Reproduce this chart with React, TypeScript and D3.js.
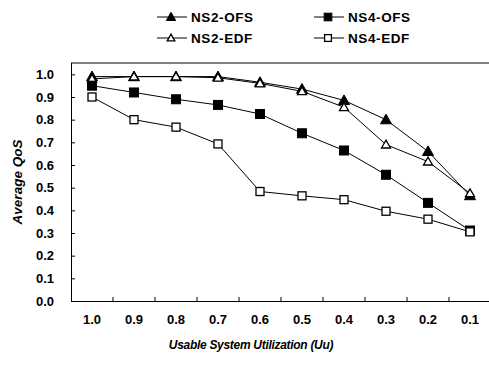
import React, { useEffect, useRef } from 'react';
import * as d3 from 'd3';

// usable system utilization, from 1.0 down to 0.1
const categories = ['1.0', '0.9', '0.8', '0.7', '0.6', '0.5', '0.4', '0.3', '0.2', '0.1'];

const ns2Ofs = [0.99, 0.99, 0.99, 0.99, 0.965, 0.935, 0.885, 0.80, 0.66, 0.465];
const ns2Edf = [0.98, 0.99, 0.99, 0.985, 0.96, 0.925, 0.855, 0.69, 0.615, 0.475];
const ns4Ofs = [0.95, 0.92, 0.89, 0.865, 0.825, 0.74, 0.664, 0.557, 0.433, 0.311];
const ns4Edf = [0.90, 0.80, 0.767, 0.693, 0.483, 0.464, 0.447, 0.396, 0.361, 0.305];

const yTicks = [0, 0.1, 0.2, 0.3, 0.4, 0.5, 0.6, 0.7, 0.8, 0.9, 1.0];

const seriesNames = ['NS2-OFS', 'NS2-EDF', 'NS4-OFS', 'NS4-EDF'];

type Series = { name: string; values: number[]; shape: 'tri' | 'sq'; filled: boolean };

const series: Series[] = [
  { name: seriesNames[0], values: ns2Ofs, shape: 'tri', filled: true },
  { name: seriesNames[1], values: ns2Edf, shape: 'tri', filled: false },
  { name: seriesNames[2], values: ns4Ofs, shape: 'sq', filled: true },
  { name: seriesNames[3], values: ns4Edf, shape: 'sq', filled: false },
];

const W = 489;
const H = 366;
const FONT = '"Liberation Sans", Arial, sans-serif';

function drawMarker(g: any, s: Series, x: number, y: number, k = 1) {
  if (s.shape === 'tri') {
    const r = (s.filled ? 5.5 : 4.5) * k;
    g.append('path')
      .attr('d', `M${x},${y - r}L${x + r},${y + r * 0.75}L${x - r},${y + r * 0.75}Z`)
      .attr('fill', s.filled ? '#000' : '#fff')
      .attr('stroke', '#000')
      .attr('stroke-width', s.filled ? 1 : 1.3);
  } else {
    const r = (s.filled ? 4.5 : 4) * k;
    g.append('rect')
      .attr('x', x - r)
      .attr('y', y - r)
      .attr('width', r * 2)
      .attr('height', r * 2)
      .attr('fill', s.filled ? '#000' : '#fff')
      .attr('stroke', '#000')
      .attr('stroke-width', s.filled ? 1 : 1.3);
  }
}

export default function App() {
  const ref = useRef<SVGSVGElement>(null);

  useEffect(() => {
    const svg = d3.select(ref.current);
    svg.selectAll('*').remove();

    const left = 71, right = 491, top = 63, bottom = 301;

    const x = d3.scaleBand<string>().domain(categories).range([left, right]);
    const y = d3.scaleLinear().domain([0, 1.05]).range([bottom, top]);
    const cx = (c: string) => (x(c) as number) + x.bandwidth() / 2;

    // frame: top line, left and bottom axes
    svg.append('line')
      .attr('x1', left).attr('x2', right).attr('y1', top).attr('y2', top)
      .attr('stroke', '#000').attr('stroke-width', 1);

    const yAxis = d3.axisLeft(y)
      .tickValues(yTicks)
      .tickSizeInner(-4)
      .tickSizeOuter(0)
      .tickPadding(17)
      .tickFormat(d3.format('.1f') as any);
    const yg = svg.append('g')
      .attr('transform', `translate(${left},0)`)
      .call(yAxis as any);
    yg.select('.domain').attr('d', `M0.5,${top}V${bottom}`);

    const xAxis = d3.axisBottom(x).tickSize(0).tickPadding(14);
    const xg = svg.append('g')
      .attr('transform', `translate(0,${bottom})`)
      .call(xAxis as any);
    xg.select('.domain').attr('d', `M${left},0.5H${right}`);

    // inward ticks between categories
    xg.selectAll('line.sep')
      .data(categories.slice(1))
      .enter()
      .append('line')
      .attr('class', 'sep')
      .attr('x1', d => x(d) as number)
      .attr('x2', d => x(d) as number)
      .attr('y1', 0)
      .attr('y2', -4)
      .attr('stroke', '#000');

    svg.selectAll('.tick text')
      .attr('font-family', FONT)
      .attr('font-size', 13)
      .attr('font-weight', 'bold')
      .attr('fill', '#000');
    svg.selectAll('.domain, .tick line').attr('stroke', '#000');

    // axis titles
    svg.append('text')
      .attr('x', 251)
      .attr('y', 349)
      .attr('text-anchor', 'middle')
      .attr('font-family', FONT)
      .attr('font-size', 12)
      .attr('font-style', 'italic')
      .attr('font-weight', 'bold')
      .attr('letter-spacing', -0.3)
      .text('Usable System Utilization (Uu)');

    svg.append('text')
      .attr('transform', `translate(22,${(top + bottom) / 2}) rotate(-90)`)
      .attr('text-anchor', 'middle')
      .attr('font-family', FONT)
      .attr('font-size', 13.5)
      .attr('font-style', 'italic')
      .attr('font-weight', 'bold')
      .text('Average QoS');

    // lines and markers
    const line = d3.line<number>()
      .x((_, i) => cx(categories[i]))
      .y(d => y(d));

    series.forEach(s => {
      const g = svg.append('g');
      g.append('path')
        .attr('d', line(s.values) as string)
        .attr('fill', 'none')
        .attr('stroke', '#000')
        .attr('stroke-width', 1);
      s.values.forEach((v, i) => drawMarker(g, s, cx(categories[i]), y(v)));
    });

    // legend
    const legendPos = [
      { lx: 157, ly: 17 },
      { lx: 157, ly: 38 },
      { lx: 314, ly: 17 },
      { lx: 314, ly: 38 },
    ];
    series.forEach((s, i) => {
      const p = legendPos[i];
      const g = svg.append('g');
      g.append('line')
        .attr('x1', p.lx).attr('x2', p.lx + 30)
        .attr('y1', p.ly).attr('y2', p.ly)
        .attr('stroke', '#000').attr('stroke-width', 1);
      drawMarker(g, s, p.lx + 14, p.ly, 0.85);
      g.append('text')
        .attr('x', p.lx + 34)
        .attr('y', p.ly + 5)
        .attr('font-family', FONT)
        .attr('font-size', 13.5)
        .attr('font-weight', 'bold')
        .attr('letter-spacing', 0.6)
        .text(s.name);
    });
  }, []);

  return (
    <svg
      ref={ref}
      width={W}
      height={H}
      style={{ position: 'absolute', left: 0, top: 0, background: '#fff' }}
    />
  );
}
